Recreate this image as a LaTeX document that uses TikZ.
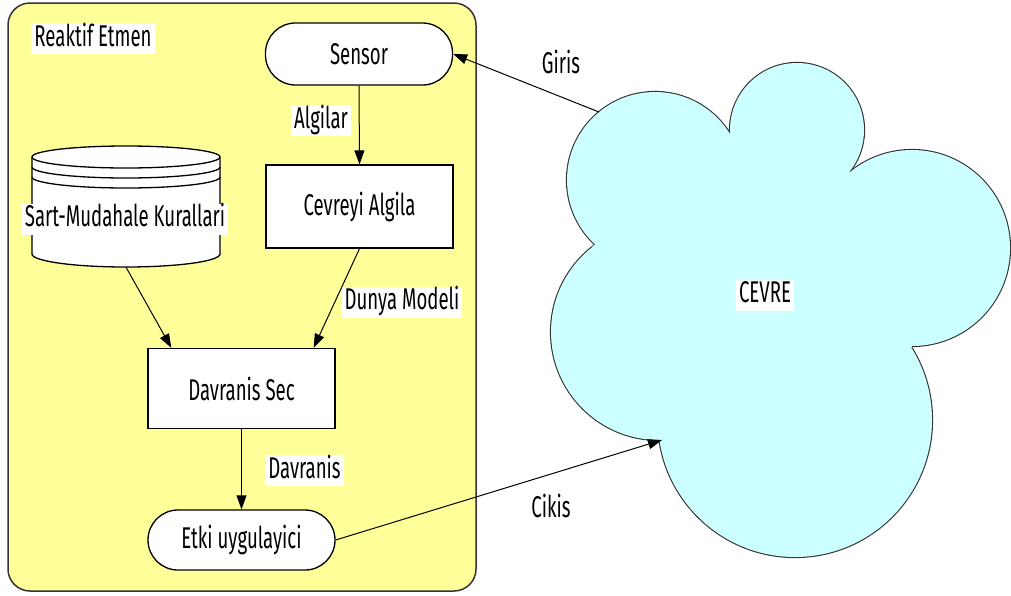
\documentclass[tikz,border=0pt]{standalone}
\usepackage{fontspec}
\setmainfont{Fira Sans}[FakeStretch=0.62]
\usetikzlibrary{arrows.meta}
\definecolor{agentyellow}{HTML}{FFFF99}
\definecolor{envcyan}{HTML}{CCFFFF}
\definecolor{edgegray}{HTML}{333333}
\begin{document}
\begin{tikzpicture}[x=1pt,y=-1pt,font=\fontsize{30}{33}\selectfont,
  agentbox/.style={draw=edgegray,line width=1.5pt,fill=agentyellow,rounded corners=22pt,inner sep=0pt},
  procbox/.style={draw=black,line width=1.3pt,fill=white,minimum width=187pt,inner sep=0pt},
  pill/.style={procbox,rounded corners=30pt},
  lbl/.style={fill=white,inner xsep=3pt,inner ysep=2pt,text height=21pt,text depth=6pt},
  arr/.style={line width=1pt,-{Triangle[length=14pt,width=10pt]}},
  cloudline/.style={draw=edgegray,line width=2.2pt}]
\useasboundingbox (0,0) rectangle (1011,595);

% agent container
\node[agentbox,minimum width=468pt,minimum height=588pt] (agent) at (242,297) {};
\node[lbl] (title) at (93,38.5) {Reaktif Etmen};

% nodes
\node[pill,minimum height=62pt] (sensor) at (359,54) {Sensor};
\node[procbox,minimum height=83pt] (perceive) at (359.5,206.5) {Cevreyi Algila};
\node[procbox,minimum height=80pt] (select) at (241.5,388.5) {Davranis Sec};
\node[pill,minimum height=60pt] (effector) at (241.5,540) {Etki uygulayici};

% rule base cylinder
\node[minimum width=188pt,minimum height=122pt,inner sep=0pt] (rules) at (126,206) {};
\path[draw=black,line width=1.3pt,fill=white]
  (32,157) -- (32,254) arc[start angle=180,end angle=360,x radius=94pt,y radius=13pt]
  -- (220,157) arc[start angle=0,end angle=180,x radius=94pt,y radius=11pt] -- cycle;
\draw[line width=1.3pt] (32,157) arc[start angle=180,end angle=360,x radius=94pt,y radius=11pt];
\draw[line width=1.3pt] (32,167) arc[start angle=180,end angle=360,x radius=94pt,y radius=11pt];
\draw[line width=1.3pt] (32,177) arc[start angle=180,end angle=360,x radius=94pt,y radius=11pt];
\node[lbl] (ruleslbl) at (125,219) {Sart-Mudahale Kurallari};

% environment cloud
\foreach \cx/\cy/\r in {655/180/88,797/130/67,912/248/98,795/420/137,659/332/108}
  \draw[cloudline] (\cx,\cy) circle[radius=\r pt];
\fill[envcyan] (592,247) -- (730,134) -- (852,173) -- (912,347) -- (662,440) -- cycle;
\foreach \cx/\cy/\r in {655/180/88,797/130/67,912/248/98,795/420/137,659/332/108}
  \fill[envcyan] (\cx,\cy) circle[radius=\r pt];
\node[lbl] (env) at (765,295) {CEVRE};
\coordinate (envin) at (599,112);
\coordinate (envout) at (662,440);

% connectors
\draw[arr] (sensor.south) -- (perceive.north);
\draw[arr] (rules.south) -- ([xshift=24pt]select.north west);
\draw[arr] (perceive.south) -- ([xshift=-22pt]select.north east);
\draw[arr] (select.south) -- (effector.north);
\draw[arr] (effector.east) -- (envout);
\draw[arr] (envin) -- (sensor.east);

% connector labels
\node[lbl] (l1) at (321,120.5) {Algilar};
\node[lbl] (l2) at (402,302) {Dunya Modeli};
\node[lbl] (l3) at (304.5,470.5) {Davranis};
\node[lbl] (l4) at (561,66) {Giris};
\node[lbl] (l5) at (551,510) {Cikis};
\end{tikzpicture}
\end{document}
